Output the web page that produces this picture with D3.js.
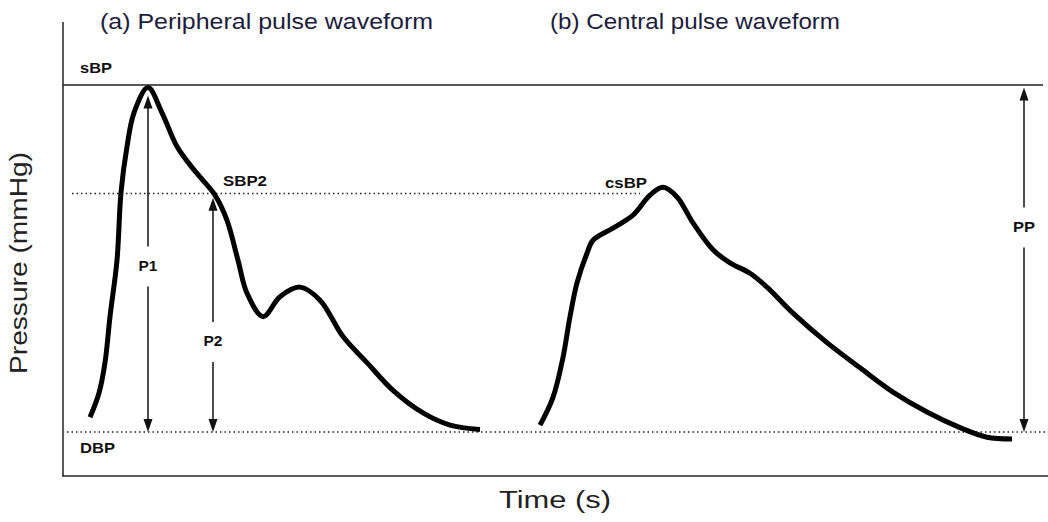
<!DOCTYPE html>
<html>
<head>
<meta charset="utf-8">
<script src="https://cdn.jsdelivr.net/npm/d3@7"></script>
<style>
  html, body { margin: 0; padding: 0; background: #fff; }
  svg { display: block; }
  text { font-family: Arial, "Liberation Sans", sans-serif; }
</style>
</head>
<body>
<svg id="chart" width="1048" height="522"></svg>
<script>
// ---------- data (time in ms, pressure in mmHg) ----------
const periTime = [54, 72, 84, 94, 108, 116, 128, 142, 170, 198, 228, 258, 280, 304, 328, 350, 368, 400, 434, 474, 514, 560, 608, 660, 720, 774, 834];
const periPressure = [81.7, 84.5, 88.0, 93.3, 99.8, 107.6, 112.9, 116.8, 119.7, 116.8, 112.9, 110.5, 109.0, 107.3, 104.4, 99.8, 96.0, 93.3, 95.6, 96.7, 95.2, 91.0, 88.0, 84.8, 82.2, 80.8, 80.3];

const centralTime = [954, 980, 1000, 1014, 1028, 1048, 1060, 1100, 1140, 1174, 1200, 1228, 1260, 1300, 1334, 1374, 1408, 1460, 1528, 1594, 1660, 1728, 1794, 1848, 1898];
const centralPressure = [80.8, 84.0, 88.6, 93.3, 97.2, 100.6, 102.1, 103.5, 105.0, 107.3, 108.2, 107.1, 104.1, 101.0, 99.5, 98.3, 96.7, 93.7, 90.3, 87.4, 84.6, 82.3, 80.5, 79.4, 79.2];

const levelNames = ["sBP", "SBP2", "DBP"];
const levelValues = [120, 107.5, 80];
const levelStart = [0, 18, 8];
const levelEnd = [1960, 1154, 1970];

const arrowLabels = ["P1", "P2", "PP"];
const arrowTime = [170, 300, 1922];
const arrowTop = [118.8, 107.0, 119.7];
const arrowBottom = [80, 80, 80];
const arrowLabelPressure = [99.3, 90.6, 103.8];

const panelTitles = ["(a) Peripheral pulse waveform", "(b) Central pulse waveform"];
const titleTime = [74, 974];
const csLabel = "csBP";
const xTitle = "Time (s)";
const yTitle = "Pressure (mmHg)";

// ---------- layout ----------
const svg = d3.select("#chart");
const x = d3.scaleLinear().domain([0, 1970]).range([63, 1048]);
const y = d3.scaleLinear().domain([80, 120]).range([432, 85]);
const axisTop = 22, axisBottom = 476;
const ink = "#111";
// rendered text widths (the reference text is slightly stretched horizontally)
const labelSize = 15.5;
const levelLabelWidth = [32, 44, 35];
const csLabelWidth = 42;
const arrowLabelWidth = [19, 19, 22];
const titleWidth = [333, 290];

// axes frame (left + bottom)
svg.append("line").attr("x1", x(0)).attr("x2", x(0)).attr("y1", axisTop).attr("y2", axisBottom)
  .attr("stroke", "#222").attr("stroke-width", 1.5);
svg.append("line").attr("x1", x(0) - 1).attr("x2", x(1970)).attr("y1", axisBottom).attr("y2", axisBottom)
  .attr("stroke", "#222").attr("stroke-width", 1.5);

// reference levels
levelValues.forEach((v, i) => {
  const ln = svg.append("line")
    .attr("x1", x(levelStart[i])).attr("x2", x(levelEnd[i]))
    .attr("y1", y(v)).attr("y2", y(v))
    .attr("stroke", "#222").attr("stroke-width", 1.5);
  if (i !== 0) ln.attr("stroke-dasharray", "1.5,3");
});

// level labels
const lab = svg.append("g").attr("font-weight", "bold").attr("font-size", labelSize).attr("fill", ink);
const levelLabelPos = [[80, -12], [223, -7], [80, 21]];
levelNames.forEach((n, i) => {
  lab.append("text").attr("x", levelLabelPos[i][0]).attr("y", y(levelValues[i]) + levelLabelPos[i][1])
    .attr("textLength", levelLabelWidth[i]).attr("lengthAdjust", "spacingAndGlyphs").text(n);
});
lab.append("text").attr("x", 605).attr("y", y(levelValues[1]) - 5)
  .attr("textLength", csLabelWidth).attr("lengthAdjust", "spacingAndGlyphs").text(csLabel);

// waveforms
const line = d3.line().x(d => x(d[0])).y(d => y(d[1])).curve(d3.curveCatmullRom.alpha(0.5));
const peri = periTime.map((t, i) => [t, periPressure[i]]);
const cent = centralTime.map((t, i) => [t, centralPressure[i]]);
[peri, cent].forEach(data => {
  svg.append("path").datum(data).attr("d", line)
    .attr("fill", "none").attr("stroke", "#000").attr("stroke-width", 5)
    .attr("stroke-linejoin", "round").attr("stroke-linecap", "butt");
});

// arrows
function head(px, py, dir) { // dir -1 up, +1 down; tip at (px,py)
  const L = 13, W = 4.5;
  return `M${px},${py}L${px - W},${py - dir * L}L${px + W},${py - dir * L}Z`;
}
arrowLabels.forEach((name, i) => {
  const ax = x(arrowTime[i]);
  const yt = y(arrowTop[i]), yb = y(arrowBottom[i]), yl = y(arrowLabelPressure[i]);
  const g = svg.append("g");
  g.append("line").attr("x1", ax).attr("x2", ax).attr("y1", yt + 6).attr("y2", yl - 18)
    .attr("stroke", ink).attr("stroke-width", 1.5);
  g.append("line").attr("x1", ax).attr("x2", ax).attr("y1", yl + 22).attr("y2", yb - 6)
    .attr("stroke", ink).attr("stroke-width", 1.5);
  g.append("path").attr("d", head(ax, yt, -1)).attr("fill", ink);
  g.append("path").attr("d", head(ax, yb, 1)).attr("fill", ink);
  g.append("text").attr("x", ax - arrowLabelWidth[i] / 2).attr("y", yl + 6)
    .attr("textLength", arrowLabelWidth[i]).attr("lengthAdjust", "spacingAndGlyphs")
    .attr("font-weight", "bold").attr("font-size", labelSize).attr("fill", ink).text(name);
});

// panel titles
panelTitles.forEach((t, i) => {
  svg.append("text").attr("x", x(titleTime[i])).attr("y", 29)
    .attr("font-size", 21.5).attr("fill", "#1c1c3c")
    .attr("textLength", titleWidth[i]).attr("lengthAdjust", "spacingAndGlyphs").text(t);
});

// axis titles
svg.append("text").attr("transform", "translate(27,263) rotate(-90)")
  .attr("text-anchor", "middle").attr("font-size", 23).attr("fill", "#222")
  .attr("textLength", 222).attr("lengthAdjust", "spacingAndGlyphs").text(yTitle);
svg.append("text").attr("x", 555).attr("y", 508).attr("text-anchor", "middle")
  .attr("font-size", 23).attr("fill", "#222")
  .attr("textLength", 112).attr("lengthAdjust", "spacingAndGlyphs").text(xTitle);
</script>
</body>
</html>
